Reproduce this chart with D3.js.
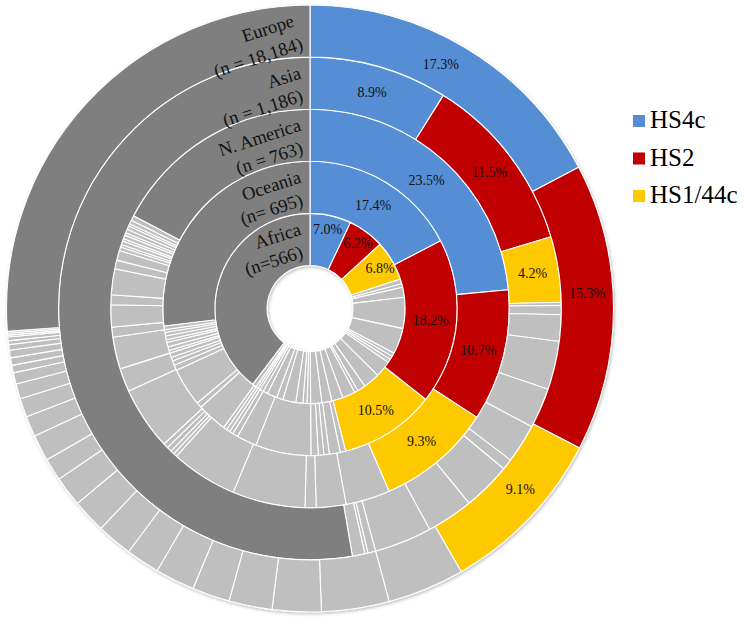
<!DOCTYPE html>
<meta charset="utf-8">
<head>
  <title>Serotype rings</title>
</head>

<style>
body { margin: 0; background: #fff; }
</style>

<body>
  <div id="content">
    <svg width="744" height="621"></svg>
  </div>

  <script src="https://cdnjs.cloudflare.com/ajax/libs/d3/7.8.5/d3.min.js"></script>
  <script>
// regions, innermost ring first
var regions = ["Africa", "Oceania", "N. America", "Asia", "Europe"]
var regionN = ["(n=566)", "(n= 695)", "(n = 763)", "(n = 1,186)", "(n = 18,184)"]

var legendKeys = ["HS4c", "HS2", "HS1/44c"]

// % of isolates per region
var hs4c   = [7.0, 17.4, 23.5, 8.9, 17.3]
var hs2    = [6.2, 18.2, 10.7, 11.5, 15.3]
var hs144c = [6.8, 10.5, 9.3, 4.2, 9.1]

// the other serotypes (light grey slices)
var othersAfrica = [0.8, 0.6, 1.7, 5.3, 4.4, 0.6, 0.6, 0.6, 2.8, 2.8, 1.4, 0.6, 2.2, 1.9,
  1.7, 1.9, 0.6, 0.7, 1.2, 2.2, 1.1, 1.7, 0.8, 0.6, 0.4, 0.4, 0.7]
var othersOceania = [0.6, 1.2, 0.6, 0.6, 0.8, 6.1, 2.2, 0.6, 0.4, 0.4, 0.4, 3.3, 0.6, 4.2,
  0.6, 0.5, 0.4, 0.5, 0.3, 0.4, 0.5, 0.3, 0.4, 0.4, 0.3, 0.4]
var othersNAmerica = [3.6, 2.4, 0.9, 5.9, 5.4, 0.3, 0.3, 0.4, 0.4, 5.1, 1.9, 2.6, 0.8, 1.8,
  0.8, 2.1, 0.7, 0.8, 0.3, 0.2, 0.3, 0.2, 0.3, 0.2, 0.3, 0.3, 0.2, 0.3, 0.4]
var othersAsia = [0.2, 0.6, 1.7, 3.1, 2.6, 2.5, 0.7, 3.1, 3.0, 3.7, 0.5, 0.2, 0.8]
var othersEurope = [4.1, 3.6, 2.6, 2.3, 2.0, 2.1, 1.8, 1.9, 1.8, 1.6, 1.2, 1.4, 1.1, 1.0,
  0.8, 0.6, 0.4, 0.4, 0.4, 0.3, 0.2, 0.2, 0.1, 0.1, 0.1]
var others = [othersAfrica, othersOceania, othersNAmerica, othersAsia, othersEurope]

// untyped / remaining (dark grey)
var remaining = [39.7, 26.9, 17.3, 52.7, 26.2]

var colors = { hs4c: "#558ed5", hs2: "#c00000", hs144c: "#ffc900", other: "#bfbfbf", rest: "#7f7f7f" }
var serif = "Liberation Serif"

var cx = 310, cy = 308.5
var hole = 43, ringW = 52.1
// excel nudged the outer ring's labels a little anticlockwise
var labelTurn = [0, 0, 0, 0, -3 * Math.PI / 180]

var svg = d3.select("svg")

var defs = svg.append("defs")
defs.append("filter").attr("id", "shadow")
  .attr("x", "-10%").attr("y", "-10%").attr("width", "120%").attr("height", "120%")
  .append("feDropShadow")
  .attr("dx", 1).attr("dy", 1.5).attr("stdDeviation", 1.5)
  .attr("flood-color", "#000").attr("flood-opacity", 0.25)

var g = svg.append("g").attr("transform", "translate(" + cx + "," + cy + ")")
var ringsG = g.append("g").attr("filter", "url(#shadow)")

var pie = d3.pie().sort(null).value(function(d) { return d.v })

regions.forEach(function(name, i) {
  var slices = [
    { v: hs4c[i], type: "hs4c" },
    { v: hs2[i], type: "hs2" },
    { v: hs144c[i], type: "hs144c" }
  ]
  others[i].forEach(function(v) { slices.push({ v: v, type: "other" }) })
  slices.push({ v: remaining[i], type: "rest" })

  var r0 = hole + i * ringW, r1 = r0 + ringW
  var arc = d3.arc().innerRadius(r0).outerRadius(r1)
  var arcs = pie(slices)

  ringsG.append("g").selectAll("path")
    .data(arcs)
    .enter()
    .append("path")
    .attr("d", arc)
    .attr("fill", function(d) { return colors[d.data.type] })
    .attr("stroke", "#fff")
    .attr("stroke-width", 1.1)
    .attr("stroke-linejoin", "round")

  // percentage labels on the three highlighted serotypes
  var labelR = i === 0 ? r0 + 0.73 * ringW : (r0 + r1) / 2
  var labelArc = d3.arc().innerRadius(labelR).outerRadius(labelR)
  g.append("g").selectAll("text")
    .data(arcs.slice(0, 3))
    .enter()
    .append("text")
    .attr("transform", function(d) {
      var t = labelTurn[i]
      return "translate(" + labelArc.centroid({ startAngle: d.startAngle + t, endAngle: d.endAngle + t }) + ")"
    })
    .attr("text-anchor", "middle")
    .attr("dy", "0.35em")
    .style("font-family", serif)
    .style("font-size", "14px")
    .attr("fill", "#111")
    .text(function(d) { return d.data.v.toFixed(1) + "%" })

  // region name, right aligned against the 12 o'clock line, tilted
  var y1 = -r1 + 21
  var y2 = y1 + 23
  g.append("text")
    .attr("transform", "translate(" + (i === 4 ? -15 : -8) + "," + y1 + ") rotate(-18)")
    .attr("text-anchor", "end")
    .style("font-family", serif)
    .style("font-size", "18.5px")
    .attr("fill", "#111")
    .text(name)
  g.append("text")
    .attr("transform", "translate(-6," + y2 + ") rotate(-18)")
    .attr("text-anchor", "end")
    .style("font-family", serif)
    .style("font-size", "18.5px")
    .attr("fill", "#111")
    .text(regionN[i])
})

// legend
var legend = svg.append("g").attr("transform", "translate(633,115)")
var legendColors = [colors.hs4c, colors.hs2, colors.hs144c]
legendKeys.forEach(function(k, i) {
  var row = legend.append("g").attr("transform", "translate(0," + (i * 37.5) + ")")
  row.append("rect").attr("width", 12).attr("height", 12).attr("fill", legendColors[i])
  row.append("text").attr("x", 17).attr("y", 13)
    .style("font-family", serif)
    .style("font-size", "25px").attr("fill", "#000").text(k)
})
  </script>
</body>
</html>
